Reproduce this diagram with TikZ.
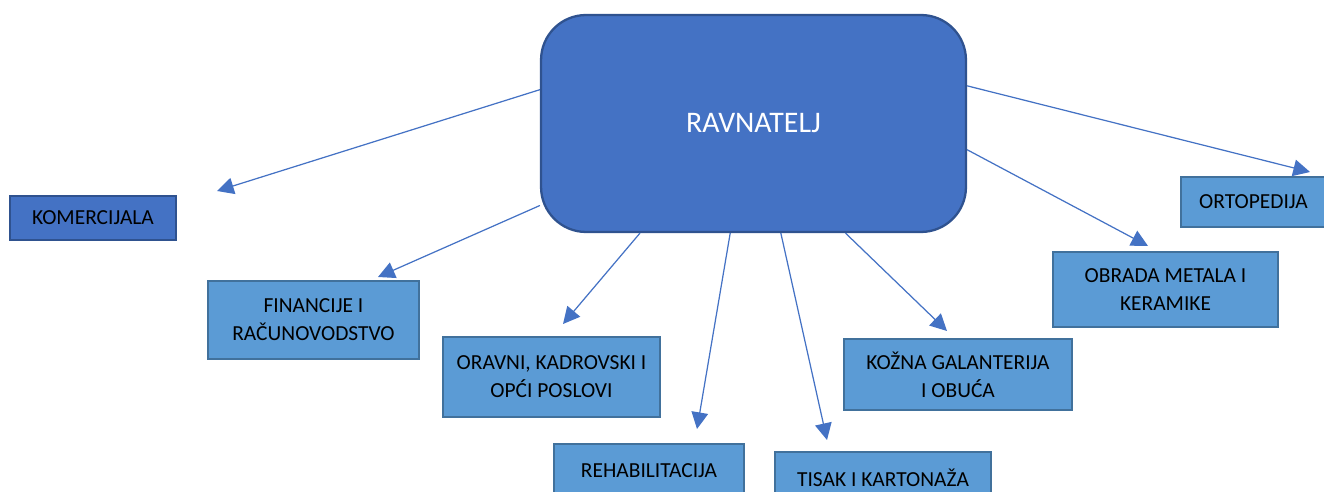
\documentclass[tikz,border=0pt]{standalone}
\usepackage{fontspec}
\setmainfont{Carlito}
\usetikzlibrary{arrows.meta}

\definecolor{darkblue}{HTML}{4472C4}
\definecolor{darkline}{HTML}{2F528F}
\definecolor{lightblue}{HTML}{5B9BD5}
\definecolor{lightline}{HTML}{41719C}

\tikzset{
  unit/.style={draw=lightline, fill=lightblue, line width=1.3pt, inner sep=0pt,
    align=center, font=\fontsize{12.2}{16}\selectfont},
  link/.style={draw=darkblue, line width=0.7pt, -{Triangle[length=9.5pt,width=9.5pt]}}
}

\begin{document}
\begin{tikzpicture}[x=0.02cm, y=-0.02cm]
      \clip (0,0) rectangle (1324,492);

      \node[draw=darkline, fill=darkblue, line width=1.3pt, rounded corners=0.9cm,
        minimum width=8.5cm, minimum height=4.34cm, inner sep=0pt,
        text=white, font=\fontsize{17}{20}\selectfont] (R) at (753.5,123.5) {RAVNATELJ};

      \node[unit, fill=darkblue, draw=darkline, minimum width=3.32cm, minimum height=0.88cm] (K) at (93,218) {KOMERCIJALA};
      \node[unit, minimum width=4.22cm, minimum height=1.56cm] (F) at (313.5,320) {FINANCIJE I\\RAČUNOVODSTVO};
      \node[unit, minimum width=4.34cm, minimum height=1.60cm] (O) at (551.5,377) {ORAVNI, KADROVSKI I\\OPĆI POSLOVI};
      \node[unit, minimum width=3.80cm, minimum height=1.08cm] (RH) at (649,471) {REHABILITACIJA};
      \node[unit, minimum width=4.32cm, minimum height=1.04cm] (TK) at (883,478) {TISAK I KARTONAŽA};
      \node[unit, minimum width=4.56cm, minimum height=1.42cm] (KG) at (958,374.5) {KOŽNA GALANTERIJA\\I OBUĆA};
      \node[unit, minimum width=4.50cm, minimum height=1.50cm] (MK) at (1165.5,289.5) {OBRADA METALA I\\KERAMIKE};
      \node[unit, minimum width=2.90cm, minimum height=1.00cm] (OR) at (1253.5,202) {ORTOPEDIJA};

      % free arrow tips
      \coordinate (tK) at (217,191);
      \coordinate (tF) at (378,277);
      \coordinate (tO) at (563,324);
      \coordinate (tRH) at (697,429);
      \coordinate (tTK) at (827,440);
      \coordinate (tKG) at (947,331);
      \coordinate (tMK) at (1148,246);
      \coordinate (tOR) at (1310,172);

      \draw [link] (R.171.7) to (tK);
      \draw [link] (R.201.6) to (tF);
      \draw [link] (R.224.5) to (tO);
      \draw [link] (R.258.2) to (tRH);
      \draw [link] (R.284)   to (tTK);
      \draw [link] (R.310.9) to (tKG);
      \draw [link] (R.353)   to (tMK);
      \draw [link] (R.10.8)  to (tOR);
\end{tikzpicture}
\end{document}
